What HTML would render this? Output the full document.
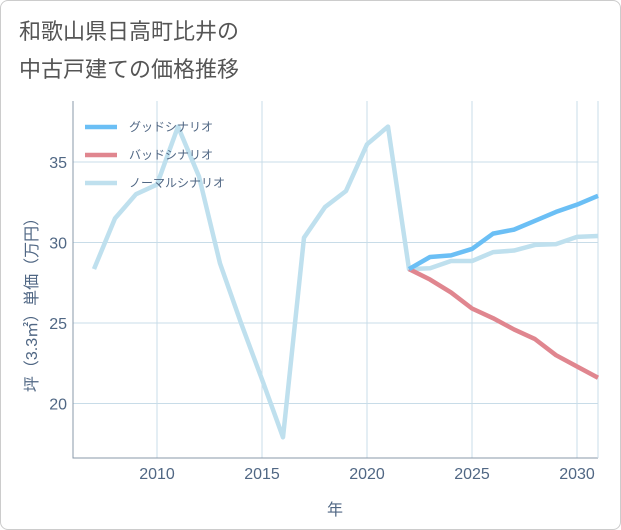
<!DOCTYPE html>
<html><head><meta charset="utf-8">
<style>
body{margin:0;background:#fff;font-family:"Liberation Sans","Noto Sans CJK JP",sans-serif;}
#wrap{position:relative;width:619px;height:528px;border:1px solid #ccc;border-radius:8px;overflow:hidden;background:#fff;}
#title{position:absolute;left:18px;top:12px;font-size:22px;line-height:38px;color:#555;}
</style></head><body>
<div id="wrap">
<div id="title">和歌山県日高町比井の<br>中古戸建ての価格推移</div>
<svg id="chart" width="621" height="530" style="position:absolute;left:0;top:0"></svg>
</div>
<script>
const years=[2007,2008,2009,2010,2011,2012,2013,2014,2015,2016,2017,2018,2019,2020,2021,2022,2023,2024,2025,2026,2027,2028,2029,2030,2031];
const normalVals=[28.35,31.5,33.0,33.6,37.2,34.1,28.7,25.0,21.5,17.9,30.3,32.2,33.2,36.1,37.2,28.35,28.4,28.85,28.85,29.4,29.5,29.85,29.9,30.35,30.4];
const futureYears=[2022,2023,2024,2025,2026,2027,2028,2029,2030,2031];
const goodVals=[28.35,29.1,29.2,29.6,30.55,30.8,31.35,31.9,32.35,32.9];
const badVals=[28.35,27.7,26.9,25.9,25.3,24.6,24.0,23.0,22.3,21.6];
const xTicks=[2010,2015,2020,2025,2030];
const yTicks=[20,25,30,35];
const seriesNames=["グッドシナリオ","バッドシナリオ","ノーマルシナリオ"];

const L=72,R=597,T=100,B=457;
const xs=y=>156+(y-2010)*21;
const ys=v=>161+(35-v)*16.1;
const svg=document.getElementById('chart');
const NS='http://www.w3.org/2000/svg';
function mk(tag,attrs,parent){const e=document.createElementNS(NS,tag);for(const k in attrs)e.setAttribute(k,attrs[k]);(parent||svg).appendChild(e);return e;}

const grid=mk('g',{});


xTicks.forEach(t=>{
  const l=mk('line',{x1:xs(t),x2:xs(t),y1:T,y2:B,stroke:'#c8dce8','stroke-width':1},grid);
  
  
  const tx=mk('text',{x:xs(t),y:B+21,'text-anchor':'middle','font-size':16,fill:'#506784'});
  tx.textContent=t;
  
  
});
yTicks.forEach(t=>{
  const l=mk('line',{x1:L,x2:R,y1:ys(t),y2:ys(t),stroke:'#c8dce8','stroke-width':1},grid);
  
  
  const tx=mk('text',{x:L-6,y:ys(t)+6,'text-anchor':'end','font-size':16,fill:'#506784'});
  tx.textContent=t;
  
  
});
const ax=mk('path',{d:`M${L},${T} V${B} H${R}`,fill:'none',stroke:'#8899aa','stroke-width':1});


const rl=mk('line',{x1:R,x2:R,y1:T,y2:B,stroke:'#c8dce8','stroke-width':1});



function line(xv,yv,color,name){
  const p=mk('polyline',{points:xv.map((x,i)=>xs(x)+','+ys(yv[i])).join(' '),fill:'none',stroke:color,'stroke-width':4.5,'stroke-linejoin':'round'});
  
  
}
line(years,normalVals,'#bfe0ee','normal-scenario-line');
line(futureYears,badVals,'#e0868f','bad-scenario-line');
line(futureYears,goodVals,'#6bbff5','good-scenario-line');

const colors=['#6bbff5','#e0868f','#bfe0ee'];
seriesNames.forEach((n,i)=>{
  const g=mk('g',{});
  
  
  const y=126+i*28;
  mk('line',{x1:84,x2:116,y1:y,y2:y,stroke:colors[i],'stroke-width':4.5},g);
  const t=mk('text',{x:128,y:y+4,'font-size':12,fill:'#506784'},g);
  t.textContent=n;
});

const xt=mk('text',{x:334,y:514,'text-anchor':'middle','font-size':16,fill:'#506784'});
xt.textContent='年';


const yt=mk('text',{x:0,y:0,'text-anchor':'middle','font-size':16,fill:'#506784',transform:'translate(36,300) rotate(-90)'});
yt.textContent='坪（3.3㎡）単価（万円）';


</script>
</body></html>
